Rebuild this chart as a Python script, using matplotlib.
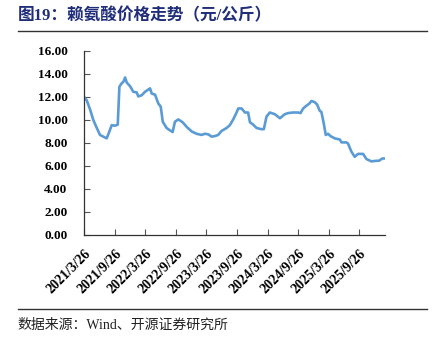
import numpy as np
import pandas as pd
import matplotlib
matplotlib.use('Agg')
import matplotlib.pyplot as plt
from matplotlib.lines import Line2D

plt.rcParams['font.family'] = ['Liberation Serif', 'Noto Sans CJK SC', 'DejaVu Sans']

# lysine price, yuan/kg
dates = ['2021-03-26', '2021-04-11', '2021-05-01', '2021-05-20', '2021-06-10', '2021-06-29',
         '2021-07-19', '2021-08-08', '2021-08-24', '2021-09-07', '2021-09-27', '2021-10-13',
         '2021-10-23', '2021-11-06', '2021-11-15', '2021-11-26', '2021-12-06', '2021-12-25',
         '2022-01-14', '2022-02-03', '2022-02-13', '2022-03-05', '2022-03-25', '2022-04-14',
         '2022-04-24', '2022-05-04', '2022-05-24', '2022-06-12', '2022-06-27', '2022-07-09',
         '2022-08-01', '2022-08-21', '2022-09-06', '2022-09-20', '2022-10-10', '2022-11-05',
         '2022-11-29', '2022-12-29', '2023-01-27', '2023-02-26', '2023-03-18', '2023-04-07',
         '2023-04-27', '2023-05-17', '2023-06-05', '2023-06-26', '2023-07-25', '2023-08-14',
         '2023-09-03', '2023-09-23', '2023-10-03', '2023-10-23', '2023-11-12', '2023-12-01',
         '2023-12-12', '2023-12-31', '2024-01-21', '2024-02-19', '2024-03-04', '2024-03-20',
         '2024-04-09', '2024-05-09', '2024-06-08', '2024-07-07', '2024-07-27', '2024-08-26',
         '2024-09-25', '2024-10-09', '2024-10-25', '2024-11-14', '2024-11-29', '2024-12-14',
         '2025-01-02', '2025-01-16', '2025-02-01', '2025-02-11', '2025-02-25', '2025-03-09',
         '2025-03-23', '2025-04-06', '2025-05-02', '2025-06-01', '2025-06-11', '2025-07-10',
         '2025-07-20', '2025-08-09', '2025-08-29', '2025-09-18', '2025-10-18', '2025-11-07',
         '2025-12-07', '2026-01-06', '2026-01-21', '2026-02-10', '2026-02-28']
price = [12.0, 11.7, 10.9, 10.0, 9.3, 8.7,
         8.55, 8.4, 9.0, 9.55, 9.5, 9.6,
         12.9, 13.2, 13.3, 13.7, 13.25, 12.95,
         12.45, 12.4, 12.05, 12.15, 12.45, 12.65,
         12.75, 12.3, 12.2, 11.45, 11.15, 9.85,
         9.3, 9.1, 8.95, 9.85, 10.05, 9.8,
         9.4, 9.0, 8.8, 8.7, 8.8, 8.75,
         8.55, 8.6, 8.7, 9.05, 9.3, 9.55,
         10.05, 10.65, 11.0, 11.0, 10.65, 10.65,
         9.8, 9.6, 9.3, 9.2, 9.2, 10.3,
         10.65, 10.5, 10.15, 10.5, 10.6, 10.65,
         10.65, 10.6, 11.0, 11.25, 11.4, 11.65,
         11.55, 11.35, 10.8, 10.7, 9.7, 8.7,
         8.8, 8.6, 8.4, 8.3, 8.05, 8.05,
         7.95, 7.25, 6.8, 7.05, 7.05, 6.6,
         6.4, 6.45, 6.45, 6.65, 6.65]
tick_dates = ['2021-03-26', '2021-09-26', '2022-03-26', '2022-09-26', '2023-03-26',
              '2023-09-26', '2024-03-26', '2024-09-26', '2025-03-26', '2025-09-26']
tick_labels = ['2021/3/26', '2021/9/26', '2022/3/26', '2022/9/26', '2023/3/26',
               '2023/9/26', '2024/3/26', '2024/9/26', '2025/3/26', '2025/9/26']

t = pd.to_datetime(dates)
fig = plt.figure(figsize=(4.38, 3.4), dpi=100)
ax = fig.add_axes([0.192, 0.309, 0.687, 0.541])
ax.plot(t, price, color='#5B9BD5', lw=1.9, solid_joinstyle='round')

ax.set_ylim(0, 16)
ax.set_yticks(np.arange(0, 17, 2))
ax.set_yticklabels(['%.2f' % v for v in np.arange(0, 17, 2)],
                   fontsize=9.5, fontweight='bold')
ax.set_xlim(pd.Timestamp('2021-03-26'), pd.Timestamp('2026-02-26'))
ax.set_xticks(pd.to_datetime(tick_dates))
ax.set_xticklabels(tick_labels, rotation=45, ha='right', va='top',
                   rotation_mode='anchor', fontsize=10, fontweight='bold')
ax.tick_params(axis='both', direction='in', length=4, width=0.8, color='#555555')
ax.tick_params(axis='y', pad=12)
ax.tick_params(axis='x', pad=9)
for s in ['top', 'right']:
    ax.spines[s].set_visible(False)
for s in ['left', 'bottom']:
    ax.spines[s].set_color('#333333')
    ax.spines[s].set_linewidth(0.9)

fig.text(0.04, 0.953, '图19：赖氨酸价格走势（元/公斤）', fontsize=12, fontweight='bold',
         color='#1F2D7A', va='center', ha='left')
fig.add_artist(Line2D([0.04, 0.975], [0.908, 0.908], color='#333333', lw=1.0))
fig.add_artist(Line2D([0.04, 0.975], [0.091, 0.091], color='#333333', lw=1.0))
fig.text(0.04, 0.045, '数据来源：Wind、开源证券研究所', fontsize=10,
         color='#222222', va='center', ha='left')

fig.savefig('out.png', dpi=100)
